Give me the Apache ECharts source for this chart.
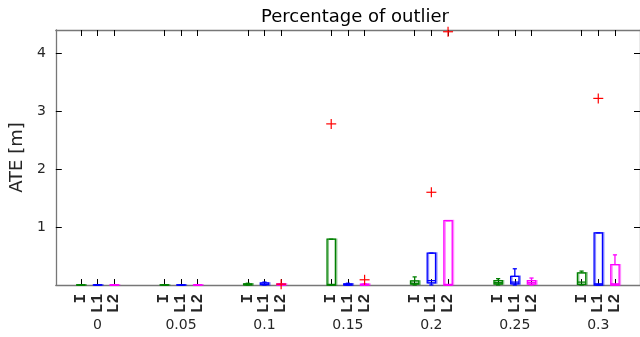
<!DOCTYPE html>
<html>
<head>
<meta charset="utf-8">
<script src="https://cdn.jsdelivr.net/npm/echarts@6/dist/echarts.min.js"></script>
<style>html,body{margin:0;padding:0;background:#fff;}#c{width:640px;height:337px;}</style>
</head>
<body>
<div id="c"></div>
<script>
// Data
var groups = ['0', '0.05', '0.1', '0.15', '0.2', '0.25', '0.3'];
var methods = ['I', 'L1', 'L2'];
var colors = ['#008000', '#0000ff', '#ff00ff'];
var haloColors = ['rgba(0,128,0,0.45)', 'rgba(0,0,255,0.45)', 'rgba(255,0,255,0.45)'];
// per method, per group: [lowerWhisker, q1, median, q3, upperWhisker]
var statsI = [
  [0, 0, 0, 0.003, 0.005],
  [0, 0, 0, 0.003, 0.005],
  [0, 0.003, 0.008, 0.02, 0.03],
  [0, 0, 0.01, 0.79, 0.79],
  [0, 0.015, 0.03, 0.07, 0.14],
  [0, 0.017, 0.04, 0.074, 0.11],
  [0, 0.01, 0.05, 0.21, 0.24]
];
var statsL1 = [
  [0, 0, 0, 0.003, 0.005],
  [0, 0, 0, 0.003, 0.005],
  [0, 0.005, 0.015, 0.035, 0.05],
  [0, 0, 0.005, 0.02, 0.03],
  [0, 0.035, 0.075, 0.55, 0.55],
  [0, 0.02, 0.05, 0.15, 0.28],
  [0, 0, 0.02, 0.9, 0.9]
];
var statsL2 = [
  [0, 0, 0, 0.003, 0.005],
  [0, 0, 0, 0.003, 0.005],
  [0, 0, 0.005, 0.02, 0.02],
  [0, 0, 0.005, 0.015, 0.02],
  [0, 0, 0.01, 1.11, 1.11],
  [0, 0.015, 0.04, 0.074, 0.12],
  [0, 0, 0.02, 0.35, 0.52]
];
// outliers: [groupIndex, methodIndex, value]
var outliers = [
  [2, 2, 0.015],
  [3, 0, 2.78],
  [3, 2, 0.09],
  [4, 1, 1.60],
  [4, 2, 4.37],
  [6, 1, 3.22]
];
var yTicks = [1, 2, 3, 4];

var allStats = [statsI, statsL1, statsL2];
function slot(g, m) { return g * 5 + m + 1; }

var boxData = [];
var slots = [];
var slotLabel = {};
for (var g = 0; g < groups.length; g++) {
  for (var m = 0; m < methods.length; m++) {
    var s = allStats[m][g];
    var x = slot(g, m);
    boxData.push([x, s[0], s[1], s[2], s[3], s[4], m]);
    slots.push(x);
    slotLabel[x] = methods[m];
  }
}
var groupCenters = [];
var groupLabel = {};
for (var g2 = 0; g2 < groups.length; g2++) {
  var c = slot(g2, 1);
  groupCenters.push(c);
  groupLabel[c] = groups[g2];
}
var outData = outliers.map(function (o) { return [slot(o[0], o[1]), o[2]]; });

var axisCol = '#777777';
var txtCol = '#262626';

function renderBox(params, api) {
  var x = api.value(0);
  var m = api.value(6);
  var col = colors[m];
  var halo = haloColors[m];
  var pLow = api.coord([x, api.value(1)]);
  var pQ1 = api.coord([x, api.value(2)]);
  var pMed = api.coord([x, api.value(3)]);
  var pQ3 = api.coord([x, api.value(4)]);
  var pHigh = api.coord([x, api.value(5)]);
  var halfW = api.size([0.5, 0])[0] / 2;
  var capW = api.size([0.25, 0])[0] / 2;
  var st = { stroke: col, lineWidth: 1.3, fill: null };
  var h = Math.max(pQ1[1] - pQ3[1], 0.01);
  return {
    type: 'group',
    children: [
      { type: 'rect', shape: { x: pQ3[0] - halfW + 1.2, y: pQ3[1], width: halfW * 2, height: h }, style: { stroke: halo, lineWidth: 1.6, fill: 'rgba(0,0,0,0)' } },
      { type: 'line', shape: { x1: pQ3[0], y1: pQ3[1], x2: pHigh[0], y2: pHigh[1] }, style: st },
      { type: 'line', shape: { x1: pHigh[0] - capW, y1: pHigh[1], x2: pHigh[0] + capW, y2: pHigh[1] }, style: st },
      { type: 'line', shape: { x1: pQ1[0], y1: pQ1[1], x2: pLow[0], y2: pLow[1] }, style: st },
      { type: 'line', shape: { x1: pLow[0] - capW, y1: pLow[1], x2: pLow[0] + capW, y2: pLow[1] }, style: st },
      { type: 'rect', shape: { x: pQ3[0] - halfW, y: pQ3[1], width: halfW * 2, height: h }, style: { stroke: col, lineWidth: 1.3, fill: 'rgba(0,0,0,0)' } },
      { type: 'line', shape: { x1: pMed[0] - halfW, y1: pMed[1], x2: pMed[0] + halfW, y2: pMed[1] }, style: st }
    ]
  };
}

function renderPlus(params, api) {
  var p = api.coord([api.value(0), api.value(1)]);
  var r = 5;
  var st = { stroke: '#ff0000', lineWidth: 1.2 };
  return {
    type: 'group',
    children: [
      { type: 'line', shape: { x1: p[0] - r, y1: p[1], x2: p[0] + r, y2: p[1] }, style: st },
      { type: 'line', shape: { x1: p[0], y1: p[1] - r, x2: p[0], y2: p[1] + r }, style: st }
    ]
  };
}

var chart = echarts.init(document.getElementById('c'));
chart.setOption({
  animation: false,
  backgroundColor: '#fff',
  title: {
    text: 'Percentage of outlier',
    left: 256,
    top: 3,
    textStyle: { fontFamily: 'DejaVu Sans', fontSize: 18, fontWeight: 'normal', color: '#000' }
  },
  grid: { left: 55, right: -4, top: 30, bottom: 52 },
  xAxis: [
    {
      type: 'value', min: -0.5, max: 34.5, position: 'bottom',
      axisLine: { show: true, onZero: false, lineStyle: { color: axisCol, width: 1.3 } },
      axisTick: { show: true, inside: true, length: 6, customValues: slots, lineStyle: { color: '#000' } },
      axisLabel: {
        show: true, customValues: slots, rotate: 90, margin: 9,
        fontFamily: 'Liberation Mono', fontWeight: 'bold', fontSize: 16, color: txtCol,
        formatter: function (v) { return slotLabel[Math.round(v)] || ''; }
      },
      splitLine: { show: false }
    },
    {
      type: 'value', min: -0.5, max: 34.5, position: 'bottom',
      axisLine: { show: false },
      axisTick: { show: false },
      axisLabel: {
        show: true, customValues: groupCenters, margin: 33,
        fontFamily: 'DejaVu Sans', fontSize: 14, color: txtCol,
        formatter: function (v) { return groupLabel[Math.round(v)] || ''; }
      },
      splitLine: { show: false }
    },
    {
      type: 'value', min: -0.5, max: 34.5, position: 'top',
      axisLine: { show: true, onZero: false, lineStyle: { color: axisCol, width: 1.3 } },
      axisTick: { show: true, inside: true, length: 6, customValues: slots, lineStyle: { color: '#000' } },
      axisLabel: { show: false },
      splitLine: { show: false }
    }
  ],
  yAxis: [
    {
      type: 'value', min: 0, max: 4.4, position: 'left',
      name: 'ATE [m]', nameLocation: 'middle', nameGap: 29,
      nameTextStyle: { fontFamily: 'DejaVu Sans', fontSize: 18, color: txtCol },
      axisLine: { show: true, onZero: false, lineStyle: { color: axisCol, width: 1.3 } },
      axisTick: { show: true, inside: true, length: 6, customValues: yTicks, lineStyle: { color: '#000' } },
      axisLabel: { show: true, customValues: yTicks, margin: 10, fontFamily: 'DejaVu Sans', fontSize: 14, color: txtCol },
      splitLine: { show: false }
    },
    {
      type: 'value', min: 0, max: 4.4, position: 'right',
      axisLine: { show: true, onZero: false, lineStyle: { color: axisCol, width: 1.3 } },
      axisTick: { show: true, inside: true, length: 6, customValues: yTicks, lineStyle: { color: '#000' } },
      axisLabel: { show: false },
      splitLine: { show: false }
    }
  ],
  series: [
    {
      type: 'custom', xAxisIndex: 0, yAxisIndex: 0,
      renderItem: renderBox,
      encode: { x: 0, y: [1, 2, 3, 4, 5] },
      data: boxData, z: 3
    },
    {
      type: 'custom', xAxisIndex: 0, yAxisIndex: 0,
      renderItem: renderPlus,
      encode: { x: 0, y: 1 },
      data: outData, z: 4
    }
  ]
});
</script>
</body>
</html>
